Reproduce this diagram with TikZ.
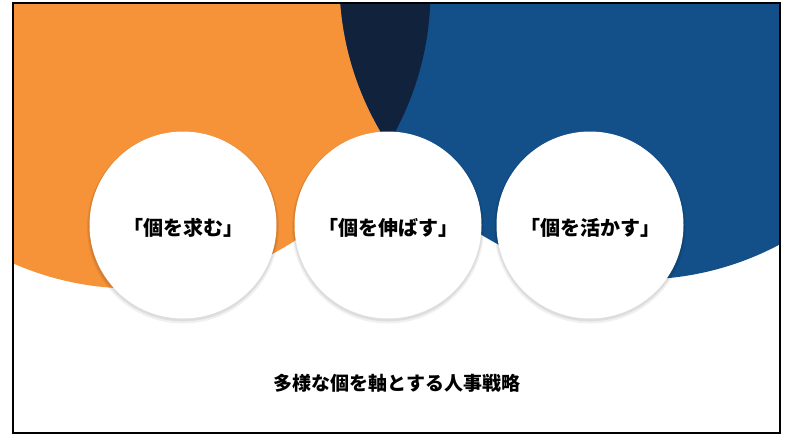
\documentclass[tikz,border=0pt]{standalone}
\usepackage{fontspec}
\newfontfamily\jp{Noto Sans CJK JP}
\definecolor{orng}{RGB}{246,146,56}
\definecolor{navy}{RGB}{19,80,138}
\definecolor{dnavy}{RGB}{16,34,60}
\begin{document}
\begin{tikzpicture}[x=1pt,y=-1pt,
  bubble/.style={circle,fill=white,minimum size=187pt,inner sep=0pt},
  bubtext/.style={font=\jp\bfseries\fontsize{20}{24}\selectfont},
  caption/.style={font=\jp\bfseries\fontsize{19}{23}\selectfont}]
\useasboundingbox (0,0) rectangle (800,440);
\fill[white] (0,0) rectangle (800,440);
\begin{scope}
  \clip (13,3) rectangle (780,433);
  \fill[orng] (133,-9) circle[radius=297.5];
  \fill[navy] (639,-20) circle[radius=299.5];
  \begin{scope}
    \clip (133,-9) circle[radius=297.5];
    \fill[dnavy] (639,-20) circle[radius=299.5];
  \end{scope}
\end{scope}
% soft shadows
\foreach \x in {183,388,590}{
  \fill[black,opacity=0.06] (\x,227.5) circle[radius=96];
  \fill[black,opacity=0.08] (\x,226.5) circle[radius=94.8];
}
\node[bubble] (c1) at (183,225) {};
\node[bubble] (c2) at (388,225) {};
\node[bubble] (c3) at (590,225) {};
\node[bubtext] (t1) at ([yshift=-3pt]c1.center) {「個を求む」};
\node[bubtext] (t2) at ([yshift=-3pt]c2.center) {「個を伸ばす」};
\node[bubtext] (t3) at ([yshift=-3pt]c3.center) {「個を活かす」};
\node[caption] (cap) at (397,383) {多様な個を軸とする人事戦略};
\draw[black,line width=2pt] (13,3) rectangle (780,433);
\end{tikzpicture}
\end{document}
